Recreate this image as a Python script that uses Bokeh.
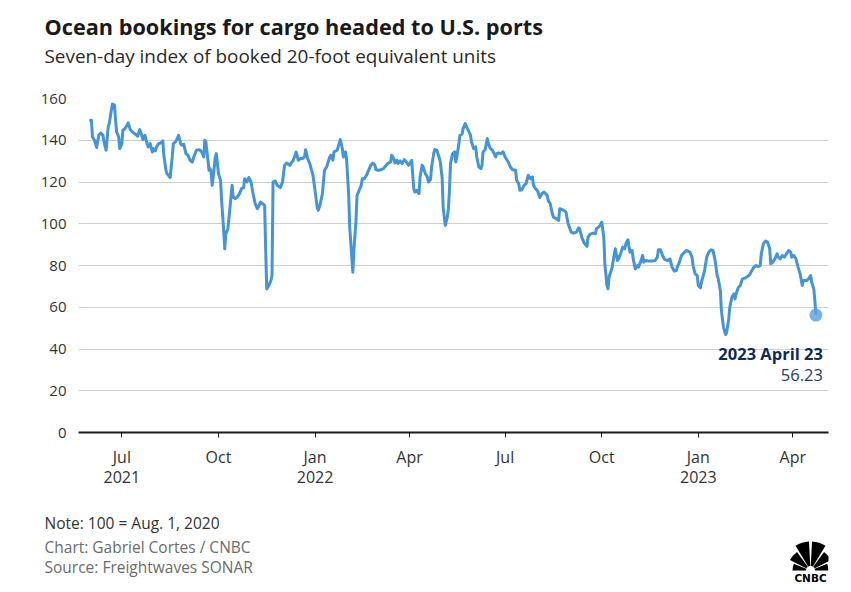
import pandas as pd
from bokeh.plotting import figure
from bokeh.models import Range1d, FixedTicker, Label, ColumnDataSource, Title
from bokeh.layouts import column
from bokeh.embed import file_html
from bokeh.resources import INLINE

FONT = "Open Sans"

# ---- data ----
dates_2021 = [
    "2021-05-31", "2021-06-02", "2021-06-03", "2021-06-05", "2021-06-07", "2021-06-09", "2021-06-11",
    "2021-06-13", "2021-06-14", "2021-06-16", "2021-06-18", "2021-06-19", "2021-06-21", "2021-06-22",
    "2021-06-24", "2021-06-25", "2021-06-26", "2021-06-28", "2021-06-29", "2021-07-01", "2021-07-02",
    "2021-07-04", "2021-07-06", "2021-07-07", "2021-07-09", "2021-07-11", "2021-07-14", "2021-07-16",
    "2021-07-18", "2021-07-20", "2021-07-21", "2021-07-22", "2021-07-23", "2021-07-25", "2021-07-26",
    "2021-07-28", "2021-07-30", "2021-07-31", "2021-08-02", "2021-08-03", "2021-08-05", "2021-08-07",
    "2021-08-09", "2021-08-10", "2021-08-12", "2021-08-13", "2021-08-16", "2021-08-18", "2021-08-19",
    "2021-08-21", "2021-08-22", "2021-08-24", "2021-08-26", "2021-08-27", "2021-08-29", "2021-08-31",
    "2021-09-02", "2021-09-04", "2021-09-06", "2021-09-07", "2021-09-10", "2021-09-13", "2021-09-15",
    "2021-09-17", "2021-09-18", "2021-09-19", "2021-09-21", "2021-09-22", "2021-09-23", "2021-09-24",
    "2021-09-25", "2021-09-26", "2021-09-28", "2021-09-29", "2021-09-30", "2021-10-01", "2021-10-03",
    "2021-10-04", "2021-10-06", "2021-10-07", "2021-10-08", "2021-10-10", "2021-10-12", "2021-10-14",
    "2021-10-15", "2021-10-17", "2021-10-19", "2021-10-21", "2021-10-23", "2021-10-25", "2021-10-26",
    "2021-10-28", "2021-10-30", "2021-11-01", "2021-11-03", "2021-11-05", "2021-11-07", "2021-11-08",
    "2021-11-10", "2021-11-12", "2021-11-14", "2021-11-15", "2021-11-16", "2021-11-18", "2021-11-20",
    "2021-11-21", "2021-11-22", "2021-11-24", "2021-11-26", "2021-11-29", "2021-12-01", "2021-12-03",
    "2021-12-05", "2021-12-08", "2021-12-10", "2021-12-11", "2021-12-14", "2021-12-16", "2021-12-18",
    "2021-12-20", "2021-12-22", "2021-12-23", "2021-12-25", "2021-12-27", "2021-12-30",
]
values_2021 = [
    149.3, 149.6, 141.6, 140.0, 136.5, 142.4, 143.5,
    142.4, 139.2, 135.2, 146.4, 148.0, 154.4, 157.3,
    156.8, 149.6, 144.0, 141.6, 136.0, 138.4, 144.8,
    145.6, 147.2, 148.3, 145.1, 144.0, 142.9, 141.9,
    145.1, 142.4, 140.3, 141.6, 142.4, 138.4, 136.8,
    138.4, 134.4, 136.0, 134.9, 136.8, 138.4, 138.7,
    139.7, 132.8, 125.6, 124.0, 122.1, 132.0, 138.4,
    139.2, 140.0, 142.4, 138.4, 137.6, 138.1, 133.6,
    132.8, 130.4, 129.6, 131.2, 135.2, 135.5, 134.4,
    132.0, 140.0, 139.2, 130.4, 125.6, 126.4, 124.8,
    118.4, 122.4, 132.0, 133.6, 128.8, 124.0, 120.8,
    111.2, 96.8, 88.0, 95.2, 97.6, 108.0, 118.4,
    112.8, 112.0, 112.8, 114.4, 116.8, 117.3, 121.6,
    120.0, 122.1, 120.0, 114.4, 109.6, 107.2, 108.0,
    110.4, 109.6, 108.8, 87.2, 68.8, 70.4, 72.8,
    75.2, 120.0, 120.5, 118.4, 117.3, 120.0, 128.0,
    129.1, 128.0, 129.6, 130.1, 134.4, 130.4, 131.2,
    131.2, 132.0, 135.5, 131.2, 128.8, 123.2,
]
dates_2022 = [
    "2022-01-01", "2022-01-03", "2022-01-04", "2022-01-06", "2022-01-08", "2022-01-10", "2022-01-12",
    "2022-01-15", "2022-01-16", "2022-01-18", "2022-01-19", "2022-01-22", "2022-01-23", "2022-01-25",
    "2022-01-27", "2022-01-28", "2022-01-30", "2022-01-31", "2022-02-02", "2022-02-03", "2022-02-05",
    "2022-02-06", "2022-02-07", "2022-02-09", "2022-02-10", "2022-02-12", "2022-02-14", "2022-02-15",
    "2022-02-17", "2022-02-19", "2022-02-21", "2022-02-23", "2022-02-25", "2022-02-27", "2022-02-28",
    "2022-03-02", "2022-03-05", "2022-03-07", "2022-03-09", "2022-03-11", "2022-03-14", "2022-03-15",
    "2022-03-17", "2022-03-18", "2022-03-20", "2022-03-21", "2022-03-23", "2022-03-25", "2022-03-27",
    "2022-03-29", "2022-03-31", "2022-04-02", "2022-04-03", "2022-04-05", "2022-04-06", "2022-04-08",
    "2022-04-10", "2022-04-11", "2022-04-13", "2022-04-14", "2022-04-16", "2022-04-18", "2022-04-19",
    "2022-04-21", "2022-04-22", "2022-04-24", "2022-04-25", "2022-04-27", "2022-04-28", "2022-04-30",
    "2022-05-02", "2022-05-03", "2022-05-05", "2022-05-07", "2022-05-08", "2022-05-09", "2022-05-10",
    "2022-05-12", "2022-05-14", "2022-05-15", "2022-05-16", "2022-05-18", "2022-05-19", "2022-05-21",
    "2022-05-22", "2022-05-24", "2022-05-26", "2022-05-27", "2022-05-29", "2022-05-30", "2022-06-01",
    "2022-06-03", "2022-06-04", "2022-06-06", "2022-06-08", "2022-06-09", "2022-06-10", "2022-06-12",
    "2022-06-14", "2022-06-15", "2022-06-17", "2022-06-19", "2022-06-22", "2022-06-23", "2022-06-25",
    "2022-06-27", "2022-06-29", "2022-07-01", "2022-07-03", "2022-07-04", "2022-07-06", "2022-07-08",
    "2022-07-11", "2022-07-12", "2022-07-14", "2022-07-15", "2022-07-17", "2022-07-19", "2022-07-21",
    "2022-07-23", "2022-07-25", "2022-07-27", "2022-07-28", "2022-07-30", "2022-08-01", "2022-08-03",
    "2022-08-05", "2022-08-07", "2022-08-10", "2022-08-11", "2022-08-13", "2022-08-15", "2022-08-16",
    "2022-08-19", "2022-08-21", "2022-08-22", "2022-08-26", "2022-08-28", "2022-08-30", "2022-09-02",
    "2022-09-04", "2022-09-07", "2022-09-09", "2022-09-10", "2022-09-12", "2022-09-14", "2022-09-17",
    "2022-09-18", "2022-09-20", "2022-09-23", "2022-09-25", "2022-09-26", "2022-09-28", "2022-09-30",
    "2022-10-01", "2022-10-03", "2022-10-04", "2022-10-06", "2022-10-07", "2022-10-08", "2022-10-11",
    "2022-10-13", "2022-10-14", "2022-10-16", "2022-10-17", "2022-10-19", "2022-10-21", "2022-10-23",
    "2022-10-24", "2022-10-26", "2022-10-27", "2022-10-28", "2022-10-30", "2022-10-31", "2022-11-02",
    "2022-11-04", "2022-11-05", "2022-11-07", "2022-11-09", "2022-11-10", "2022-11-12", "2022-11-15",
    "2022-11-18", "2022-11-21", "2022-11-23", "2022-11-24", "2022-11-26", "2022-11-28", "2022-11-30",
    "2022-12-03", "2022-12-05", "2022-12-07", "2022-12-09", "2022-12-11", "2022-12-12", "2022-12-14",
    "2022-12-16", "2022-12-19", "2022-12-21", "2022-12-24", "2022-12-26", "2022-12-27", "2022-12-29",
    "2022-12-31",
]
values_2022 = [
    116.0, 108.0, 106.4, 109.6, 114.4, 125.6, 127.2,
    132.0, 132.8, 130.4, 134.4, 135.2, 136.8, 140.3,
    136.0, 132.0, 134.4, 131.2, 114.4, 98.4, 84.0,
    76.8, 87.2, 101.6, 113.6, 116.0, 118.4, 121.6,
    121.6, 123.2, 125.6, 128.0, 129.1, 128.0, 125.9,
    125.6, 125.9, 126.4, 127.5, 128.8, 129.6, 132.8,
    131.2, 129.1, 130.4, 128.8, 130.1, 128.8, 130.7,
    129.6, 128.0, 129.6, 130.4, 116.8, 115.2, 116.0,
    114.4, 122.4, 128.0, 127.2, 124.0, 122.4, 120.0,
    121.2, 127.2, 133.6, 135.5, 135.2, 133.6, 130.4,
    122.4, 108.0, 99.2, 103.2, 107.2, 116.0, 128.8,
    133.6, 134.4, 129.6, 132.0, 138.4, 142.4, 142.9,
    145.6, 148.0, 145.6, 144.8, 142.4, 139.2, 136.0,
    136.8, 132.0, 127.2, 126.4, 128.0, 134.4, 135.5,
    140.8, 138.4, 136.0, 135.2, 132.0, 133.6, 133.9,
    133.6, 134.4, 132.0, 130.4, 129.6, 127.2, 125.9,
    125.6, 120.8, 119.2, 116.0, 116.3, 118.4, 119.2,
    123.2, 121.6, 122.4, 118.4, 116.8, 115.7, 112.5,
    114.4, 115.2, 113.6, 111.2, 109.6, 104.8, 103.2,
    102.4, 101.6, 107.2, 106.4, 105.6, 100.0, 96.0,
    95.5, 96.0, 98.1, 97.6, 93.6, 91.0, 89.2,
    93.6, 95.0, 95.5, 95.2, 97.6, 98.4, 99.7,
    100.8, 93.6, 80.8, 70.4, 68.8, 74.4, 79.2,
    85.6, 88.0, 82.4, 83.2, 85.6, 88.8, 88.0,
    90.4, 92.3, 88.8, 86.4, 87.2, 83.2, 78.4,
    80.0, 79.2, 81.6, 84.8, 81.6, 82.4, 82.1,
    82.1, 82.4, 84.0, 87.5, 87.5, 84.8, 82.8,
    82.4, 83.2, 79.2, 77.3, 77.6, 79.2, 81.6,
    84.8, 86.4, 87.2, 86.4, 84.0, 80.0, 76.0,
    75.2,
]
dates_2023 = [
    "2023-01-01", "2023-01-03", "2023-01-04", "2023-01-07", "2023-01-09", "2023-01-11", "2023-01-13",
    "2023-01-15", "2023-01-17", "2023-01-19", "2023-01-20", "2023-01-22", "2023-01-23", "2023-01-25",
    "2023-01-27", "2023-01-28", "2023-01-30", "2023-01-31", "2023-02-02", "2023-02-04", "2023-02-05",
    "2023-02-06", "2023-02-08", "2023-02-10", "2023-02-12", "2023-02-15", "2023-02-17", "2023-02-19",
    "2023-02-21", "2023-02-23", "2023-02-25", "2023-02-27", "2023-03-01", "2023-03-02", "2023-03-04",
    "2023-03-06", "2023-03-08", "2023-03-10", "2023-03-11", "2023-03-13", "2023-03-15", "2023-03-17",
    "2023-03-18", "2023-03-20", "2023-03-22", "2023-03-24", "2023-03-26", "2023-03-28", "2023-03-30",
    "2023-03-31", "2023-04-02", "2023-04-04", "2023-04-06", "2023-04-08", "2023-04-10", "2023-04-11",
    "2023-04-14", "2023-04-16", "2023-04-18", "2023-04-19", "2023-04-21", "2023-04-22", "2023-04-23",
]
values_2023 = [
    70.4, 69.3, 72.0, 77.6, 84.0, 86.4, 87.5,
    87.2, 82.4, 75.2, 73.6, 68.0, 58.4, 50.4,
    46.9, 48.0, 54.4, 60.0, 64.8, 66.4, 64.0,
    66.4, 69.3, 70.4, 73.6, 74.1, 74.7, 75.7,
    77.6, 79.2, 80.0, 79.5, 80.0, 85.6, 90.4,
    91.7, 91.2, 88.0, 80.8, 81.6, 83.2, 85.6,
    84.0, 83.2, 84.8, 84.0, 85.6, 87.2, 86.4,
    84.0, 84.8, 83.2, 79.2, 76.0, 70.4, 72.8,
    72.8, 73.6, 75.2, 72.0, 68.8, 63.2, 56.23,
]

y_ticks = [0, 20, 40, 60, 80, 100, 120, 140, 160]
x_tick_dates = ["2021-07-01", "2021-10-01", "2022-01-01", "2022-04-01",
                "2022-07-01", "2022-10-01", "2023-01-01", "2023-04-01"]
x_tick_labels = ["Jul\n2021", "Oct", "Jan\n2022", "Apr", "Jul", "Oct", "Jan\n2023", "Apr"]

title_text = "Ocean bookings for cargo headed to U.S. ports"
subtitle_text = "Seven-day index of booked 20-foot equivalent units"
note_text = "Note: 100 = Aug. 1, 2020"
credit_text = "Chart: Gabriel Cortes / CNBC"
source_text = "Source: Freightwaves SONAR"

# ---- build ----
dates = pd.to_datetime(dates_2021 + dates_2022 + dates_2023)
vals = values_2021 + values_2022 + values_2023
src = ColumnDataSource(dict(date=dates, v=vals))

LINE = "#4394d8"
TXT = "#333333"
GREY = "#6b6b6b"

p = figure(width=845, height=590, x_axis_type="datetime", title=None,
           x_range=Range1d(pd.Timestamp("2021-05-20 17:00"), pd.Timestamp("2023-05-05 00:00")),
           y_range=Range1d(0, 160), toolbar_location=None, output_backend="svg",
           min_border_left=78, min_border_right=17, min_border_top=98, min_border_bottom=158)
p.outline_line_color = None
p.xgrid.grid_line_color = None
p.ygrid.grid_line_color = "#cfcfcf"
p.ygrid.grid_line_width = 1

p.yaxis.ticker = FixedTicker(ticks=y_ticks)
p.yaxis.axis_line_color = None
p.yaxis.major_tick_line_color = None
p.yaxis.minor_tick_line_color = None
p.yaxis.major_label_text_font = FONT
p.yaxis.major_label_text_font_size = "15px"
p.yaxis.major_label_text_color = TXT
p.yaxis.major_label_standoff = 6

tick_ms = [float(pd.Timestamp(d).value // 10**6) for d in x_tick_dates]
p.xaxis.ticker = FixedTicker(ticks=tick_ms)
p.xaxis.major_label_overrides = {t: l for t, l in zip(tick_ms, x_tick_labels)}
p.xaxis.axis_line_color = "#1a1a1a"
p.xaxis.axis_line_width = 2
p.xaxis.major_tick_line_color = "#1a1a1a"
p.xaxis.major_tick_line_width = 1
p.xaxis.major_tick_out = 5
p.xaxis.major_tick_in = 0
p.xaxis.minor_tick_line_color = None
p.xaxis.major_label_text_font = FONT
p.xaxis.major_label_text_font_size = "16px"
p.xaxis.major_label_text_line_height = 0.945
p.xaxis.major_label_text_color = TXT
p.xaxis.major_label_standoff = 8

p.line("date", "v", source=src, line_color=LINE, line_width=3, line_join="round")

last_date = dates[-1]
last_val = vals[-1]
p.scatter(x=[last_date], y=[last_val], size=13, fill_color="#5fa6e2",
          fill_alpha=0.85, line_color=None)
p.add_layout(Label(x=last_date, y=last_val, x_offset=7, y_offset=-38,
                   text=f"{last_date.year} {last_date.strftime('%B')} {last_date.day}",
                   text_font=FONT, text_font_size="16.5px", text_font_style="bold",
                   text_color="#0d2b5a", text_align="right", text_baseline="alphabetic"))
p.add_layout(Label(x=last_date, y=last_val, x_offset=7, y_offset=-60,
                   text=f"{last_val:.2f}", text_font=FONT, text_font_size="16.5px",
                   text_color="#26406a", text_align="right", text_baseline="alphabetic"))

# title block: spacer (nearest the frame), subtitle, title
p.add_layout(Title(text=" ", text_font_size="1px", standoff=27), "above")
p.add_layout(Title(text=subtitle_text, align="left", offset=-34, standoff=0,
                   text_font=FONT, text_font_size="18.9px", text_font_style="normal",
                   text_color="#2a2a2a"), "above")
p.add_layout(Title(text=title_text, align="left", offset=-34, standoff=0,
                   text_font=FONT, text_font_size="21.7px", text_font_style="bold",
                   text_color="#1a1a1a"), "above")

# footer block below the x axis: spacer, note, credit + source
p.add_layout(Title(text=" ", text_font_size="1px", standoff=15), "below")
p.add_layout(Title(text=note_text, align="left", offset=-34, standoff=0,
                   text_font=FONT, text_font_size="15.5px", text_font_style="normal",
                   text_color=TXT), "below")
p.add_layout(Title(text=credit_text + "\n" + source_text, align="left", offset=-34,
                   standoff=4, vertical_align="top",
                   text_font=FONT, text_font_size="15.5px", text_font_style="normal",
                   text_line_height=0.948, text_color=GREY), "below")

# ---- CNBC peacock logo (decoration), overlapping the footer's right corner ----
f = figure(width=845, height=45, title=None, x_range=Range1d(78, 828), y_range=Range1d(0, 45),
           toolbar_location=None, output_backend="svg", x_axis_location=None,
           y_axis_location=None, min_border_left=78, min_border_right=17,
           min_border_top=0, min_border_bottom=0, margin=(-52, 0, 0, 0))
f.outline_line_color = None
f.background_fill_color = None
f.border_fill_color = None
f.grid.visible = False
f.wedge(x=810, y=13, radius=[18, 23, 29, 29, 23, 18],
        start_angle=[158, 126, 93, 59, 27, 0], end_angle=[180, 153, 121, 87, 54, 22],
        start_angle_units="deg", end_angle_units="deg", fill_color="black", line_color=None)
f.scatter(x=[810], y=[13], size=9, fill_color="white", line_color=None)
f.add_layout(Label(x=810, y=6, text="CNBC", text_font="DejaVu Sans", text_font_style="bold",
                   text_font_size="10.5px", text_color="black", text_align="center",
                   text_baseline="middle"))

layout = column(p, f, spacing=0)
open("out.html", "w").write(file_html(layout, INLINE))
